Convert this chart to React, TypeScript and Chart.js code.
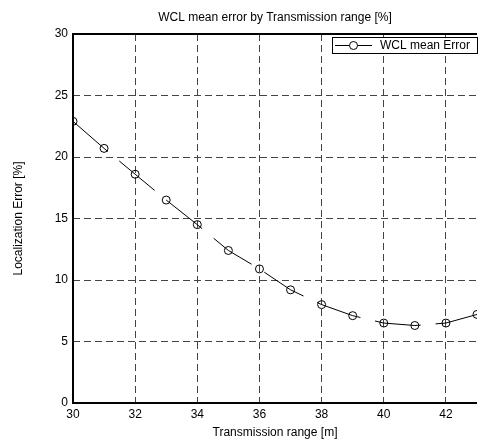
import React, { useEffect, useRef } from "react";
import { Chart, registerables } from "chart.js";

Chart.register(...registerables);

const xValues = [30, 31, 32, 33, 34, 35, 36, 37, 38, 39, 40, 41, 42, 43];
const meanError = [22.9, 20.7, 18.6, 16.5, 14.5, 12.4, 10.9, 9.2, 8.0, 7.1, 6.5, 6.3, 6.5, 7.2];
const seriesLabel = "WCL mean Error";
const chartTitle = "WCL mean error by Transmission range [%]";
const xTitle = "Transmission range [m]";
const yTitle = "Localization Error [%]";

const FONT = "'Liberation Sans', Arial, sans-serif";

const framePlugin = {
  id: "frame",
  beforeDatasetsDraw(chart: any) {
    const { ctx, chartArea } = chart;
    const { left, right, top, bottom } = chartArea;
    ctx.save();
    ctx.strokeStyle = "#000";
    ctx.lineWidth = 2;
    ctx.setLineDash([]);
    ctx.beginPath();
    ctx.moveTo(right, top);
    ctx.lineTo(left, top);
    ctx.lineTo(left, bottom);
    ctx.lineTo(right, bottom);
    ctx.stroke();
    ctx.restore();
  },
  afterDatasetsDraw(chart: any) {
    const { ctx } = chart;
    const bx = 332.5, by = 37.5, bw = 145, bh = 16;
    ctx.save();
    ctx.fillStyle = "#fff";
    ctx.fillRect(bx, by, bw, bh);
    ctx.strokeStyle = "#000";
    ctx.lineWidth = 1;
    ctx.setLineDash([]);
    ctx.strokeRect(bx, by, bw, bh);
    const cy = by + bh / 2;
    ctx.beginPath();
    ctx.moveTo(335, cy);
    ctx.lineTo(372, cy);
    ctx.stroke();
    ctx.beginPath();
    ctx.fillStyle = "#fff";
    ctx.arc(353.5, cy, 4, 0, Math.PI * 2);
    ctx.fill();
    ctx.stroke();
    ctx.fillStyle = "#000";
    ctx.font = `12px ${FONT}`;
    ctx.textBaseline = "middle";
    ctx.textAlign = "left";
    ctx.fillText(seriesLabel, 380, cy + 0.5);
    ctx.restore();
  },
};

export default function App() {
  const ref = useRef<HTMLCanvasElement>(null);
  useEffect(() => {
    if (!ref.current) return;
    const chart = new Chart(ref.current, {
      type: "line",
      data: {
        datasets: [
          {
            label: seriesLabel,
            data: xValues.map((x, i) => ({ x, y: meanError[i] })),
            borderColor: "#000",
            borderWidth: 1,
            borderDash: [46, 15],
            pointStyle: "circle",
            pointRadius: 4,
            pointBorderColor: "#000",
            pointBackgroundColor: "rgba(0,0,0,0)",
            pointBorderWidth: 1,
            fill: false,
            tension: 0,
          },
        ],
      },
      plugins: [framePlugin],
      options: {
        responsive: false,
        animation: false,
        layout: { padding: { left: 0, right: 0, top: 0, bottom: 0 } },
        plugins: {
          legend: { display: false },
          tooltip: { enabled: false },
          title: {
            display: true,
            text: chartTitle,
            fullSize: false,
            color: "#000",
            font: { family: FONT, size: 12, weight: "normal", lineHeight: 1.2 },
            padding: { top: 10, bottom: 9.6 },
          },
        },
        scales: {
          x: {
            type: "linear",
            min: 30,
            max: 43,
            afterFit: (s: any) => {
              s.height = 41;
            },
            ticks: {
              stepSize: 2,
              includeBounds: false,
              autoSkip: false,
              maxRotation: 0,
              color: "#000",
              padding: 4,
              font: { family: FONT, size: 12 },
            },
            grid: { color: "#444", lineWidth: 1, drawTicks: false },
            border: { display: false, dash: [7, 4] },
            title: {
              display: true,
              text: xTitle,
              color: "#000",
              font: { family: FONT, size: 12, lineHeight: 1.2 },
              padding: { top: 0, bottom: 4 },
            },
          },
          y: {
            type: "linear",
            min: 0,
            max: 30,
            afterFit: (s: any) => {
              s.width = 73;
            },
            ticks: {
              stepSize: 5,
              color: "#000",
              padding: 5,
              font: { family: FONT, size: 12 },
            },
            grid: { color: "#444", lineWidth: 1, drawTicks: false },
            border: { display: false, dash: [7, 4] },
            title: {
              display: true,
              text: yTitle,
              color: "#000",
              font: { family: FONT, size: 12, lineHeight: 1.2 },
              padding: { top: 11, bottom: 0 },
            },
          },
        },
      },
    } as any);
    return () => chart.destroy();
  }, []);
  return (
    <div style={{ position: "fixed", left: 0, top: 0, width: 482, height: 444, background: "#fff" }}>
      <canvas ref={ref} width={482} height={444} style={{ display: "block" }} />
    </div>
  );
}
